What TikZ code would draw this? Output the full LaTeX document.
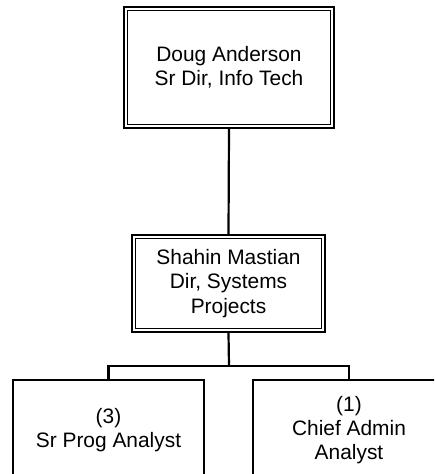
\documentclass[tikz,border=0pt]{standalone}
\usepackage{fontspec}
\setmainfont{Liberation Sans}
\begin{document}
\begin{tikzpicture}[x=1pt,y=-1pt,
  boxtext/.style={font=\fontsize{20.9}{24.2}\selectfont, align=center, inner sep=0pt, text=black},
  singlebox/.style={boxtext, draw=black, line width=2.4pt, minimum width=#1},
  dblbox/.style={boxtext, draw=black, line width=2.4pt, minimum width=#1},
  inner border/.style={draw=black, line width=1.3pt},
  conn/.style={draw=black, line width=2.2pt}]
\useasboundingbox (0,0) rectangle (434,474);
\clip (0,0) rectangle (434,474);
\node[dblbox=210pt, minimum height=120.5pt] (top) at (229,67.5) {Doug Anderson\\Sr Dir, Info Tech};
\node[dblbox=193pt, minimum height=97pt] (mid) at (228.5,283.5) {Shahin Mastian\\Dir, Systems\\Projects};
\node[singlebox=191pt, minimum height=100pt] (left) at (108.5,430) {(3)\\Sr Prog Analyst};
\node[singlebox=192pt, minimum height=100pt] (right) at (349,430) {(1)\\Chief Admin\\Analyst};
\foreach \n in {top,mid}
  \draw[inner border] ([xshift=4.5pt,yshift=-4.5pt]\n.north west) rectangle ([xshift=-4.5pt,yshift=4.5pt]\n.south east);
\coordinate (bar) at (229,366);
\draw[conn] (top.south) -- (mid.north);
\draw[conn] (mid.south) -- (bar);
\draw[conn] (left.north) |- (bar) -| (right.north);
\end{tikzpicture}
\end{document}
